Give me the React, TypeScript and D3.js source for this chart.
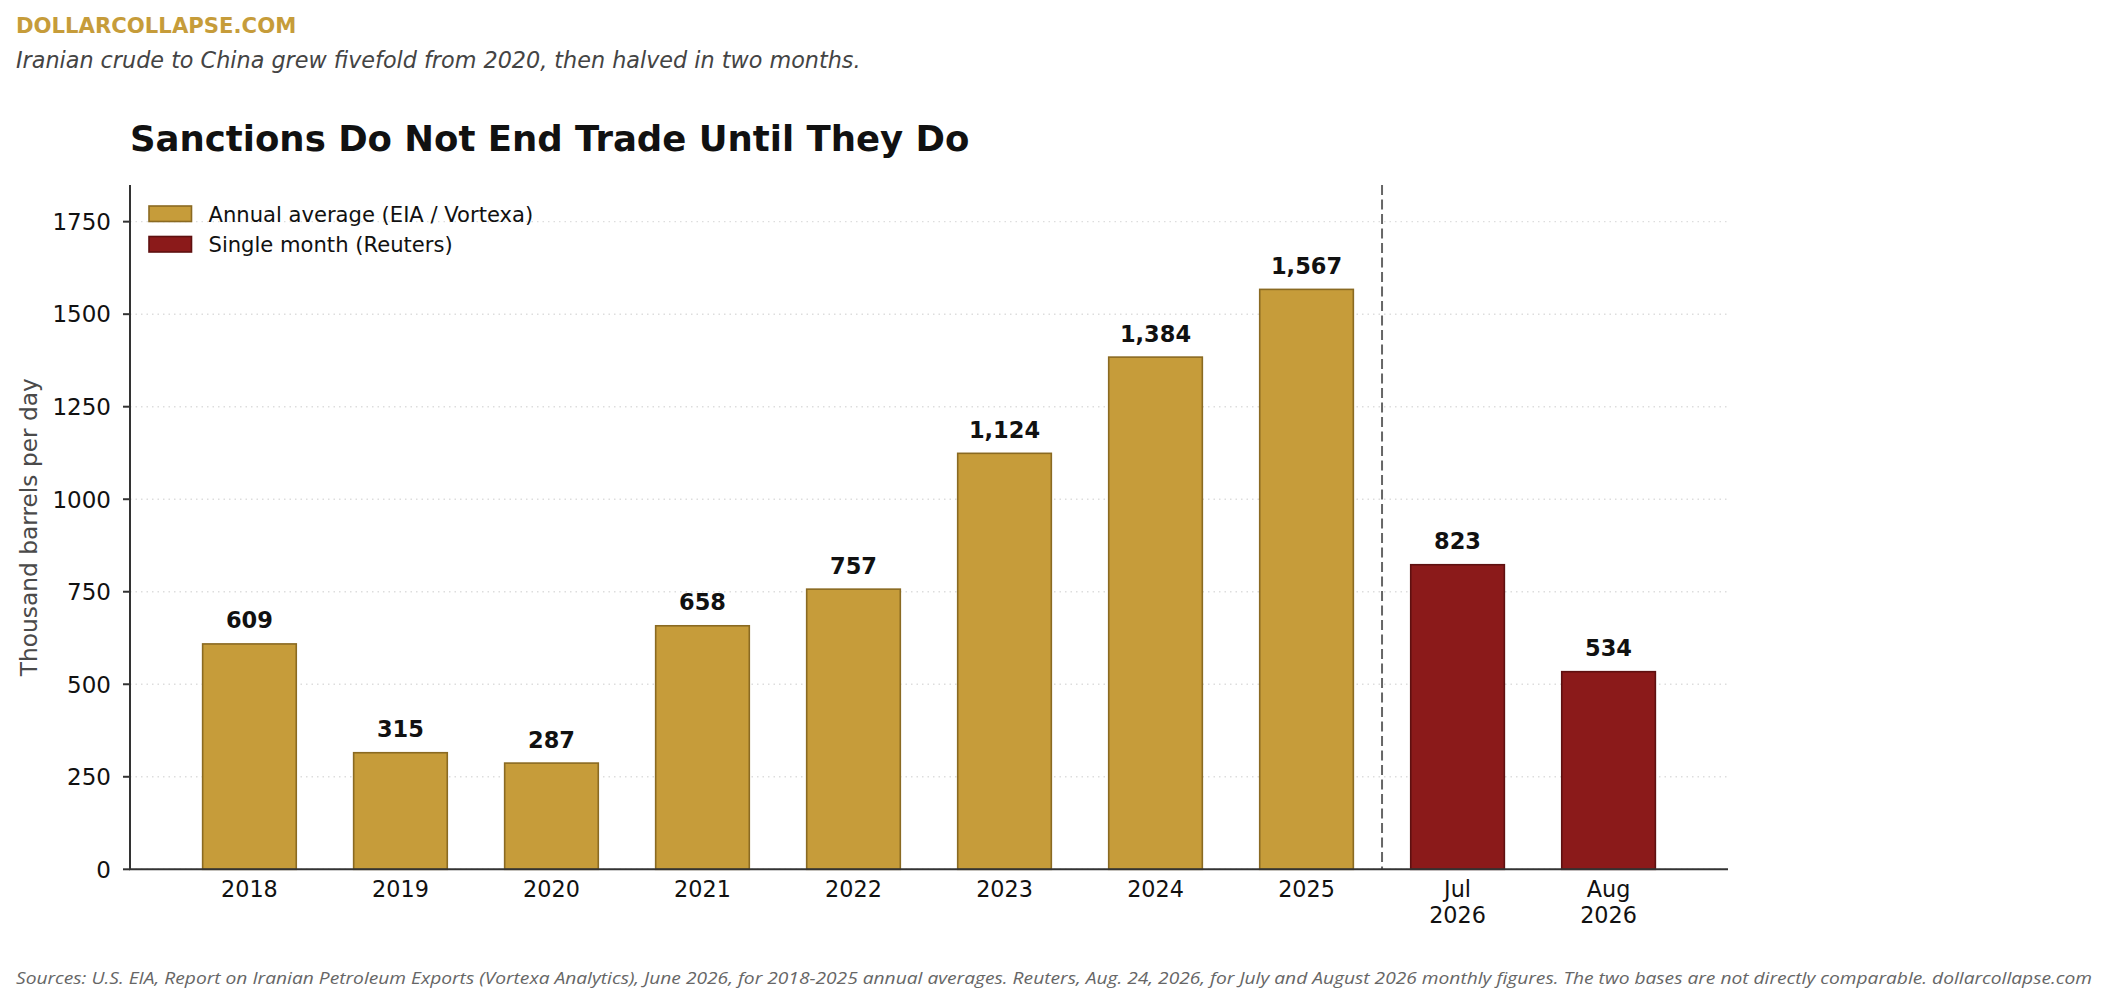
import { useEffect } from 'react';
import { scaleLinear, format, max } from 'd3';

// chart data
const categories = ['2018', '2019', '2020', '2021', '2022', '2023', '2024', '2025', 'Jul\n2026', 'Aug\n2026'];
const values = [609, 315, 287, 658, 757, 1124, 1384, 1567, 823, 534];
const sourceKind = ['annual', 'annual', 'annual', 'annual', 'annual', 'annual', 'annual', 'annual', 'monthly', 'monthly'];
const yTicks = [0, 250, 500, 750, 1000, 1250, 1500, 1750];
const legendItems = [
  { kind: 'annual', label: 'Annual average (EIA / Vortexa)' },
  { kind: 'monthly', label: 'Single month (Reuters)' },
];

const W = 2107;
const H = 1004;
const plot = { left: 130, right: 1728, top: 185, bottom: 869.3 };
const barWidth = 0.62;
const font = 'DejaVu Sans, sans-serif';

const fills: Record<string, string> = { annual: '#C69C3A', monthly: '#8B1A1A' };
const edges: Record<string, string> = { annual: '#8A6A22', monthly: '#5E1010' };

const fmt = format(',');

const App = () => {
  useEffect(() => {
    document.body.style.margin = '0';
  }, []);

  // matplotlib-like x limits: bar extent plus 5% margin
  const lo = -barWidth / 2;
  const hi = categories.length - 1 + barWidth / 2;
  const pad = (hi - lo) * 0.05;
  const x = scaleLinear().domain([lo - pad, hi + pad]).range([plot.left, plot.right]);
  const y = scaleLinear().domain([0, (max(values) ?? 0) * 1.18]).range([plot.bottom, plot.top]);
  const bw = x(barWidth) - x(0);
  const splitX = x(sourceKind.indexOf('monthly') - 0.5);

  return (
    <svg width={W} height={H} viewBox={`0 0 ${W} ${H}`} style={{ display: 'block', background: '#fff' }}>
      <text x={16} y={32.5} fontFamily={font} fontWeight="bold" fontSize={21.2} fill="#C69C3A">
        DOLLARCOLLAPSE.COM
      </text>
      <text x={16} y={68} fontFamily={font} fontStyle="italic" fontSize={22.3} fill="#444">
        Iranian crude to China grew fivefold from 2020, then halved in two months.
      </text>
      <text x={plot.left} y={151} fontFamily={font} fontWeight="bold" fontSize={35.5} fill="#111">
        Sanctions Do Not End Trade Until They Do
      </text>

      {/* grid */}
      {yTicks.map((t) => (
        <line
          key={'g' + t}
          x1={plot.left}
          x2={plot.right}
          y1={y(t)}
          y2={y(t)}
          stroke="#ddd"
          strokeWidth={1.4}
          strokeDasharray="1.5 4"
        />
      ))}

      {/* bars */}
      {values.map((v, i) => (
        <g key={categories[i]}>
          <rect
            x={x(i) - bw / 2}
            y={y(v)}
            width={bw}
            height={y(0) - y(v)}
            fill={fills[sourceKind[i]]}
            stroke={edges[sourceKind[i]]}
            strokeWidth={1.6}
          />
          <text
            x={x(i)}
            y={y(v) - 15.5}
            textAnchor="middle"
            fontFamily={font}
            fontWeight="bold"
            fontSize={22.5}
            fill="#111"
          >
            {fmt(v)}
          </text>
        </g>
      ))}

      {/* divider between annual and monthly */}
      <line x1={splitX} x2={splitX} y1={plot.top} y2={plot.bottom} stroke="#666" strokeWidth={2} strokeDasharray="10 4.5" />

      {/* axes */}
      <line x1={plot.left} x2={plot.left} y1={plot.top} y2={plot.bottom} stroke="#333" strokeWidth={2} />
      <line x1={plot.left - 1} x2={plot.right} y1={plot.bottom} y2={plot.bottom} stroke="#333" strokeWidth={2} />
      {yTicks.map((t) => (
        <g key={'t' + t}>
          <line x1={plot.left - 7} x2={plot.left} y1={y(t)} y2={y(t)} stroke="#333" strokeWidth={2} />
          <text
            x={plot.left - 19}
            y={y(t)}
            dy="0.36em"
            textAnchor="end"
            fontFamily={font}
            fontSize={23}
            fill="#111"
          >
            {t}
          </text>
        </g>
      ))}
      {categories.map((c, i) => (
        <text key={'x' + c} x={x(i)} y={896.5} textAnchor="middle" fontFamily={font} fontSize={22.3} fill="#111">
          {c.split('\n').map((line, j) => (
            <tspan key={j} x={x(i)} dy={j === 0 ? 0 : 26.5}>
              {line}
            </tspan>
          ))}
        </text>
      ))}
      <text
        transform={`translate(37,${(plot.top + plot.bottom) / 2}) rotate(-90)`}
        textAnchor="middle"
        fontFamily={font}
        fontSize={23.3}
        fill="#4a4a4a"
      >
        Thousand barrels per day
      </text>

      {/* legend */}
      {legendItems.map((item, i) => (
        <g key={item.kind} transform={`translate(149,${206 + i * 30.5})`}>
          <rect width={42.5} height={15.5} fill={fills[item.kind]} stroke={edges[item.kind]} strokeWidth={1.6} />
          <text x={59.5} y={15.5} fontFamily={font} fontSize={21.1} fill="#111">
            {item.label}
          </text>
        </g>
      ))}

      <text
        x={16}
        y={984}
        fontFamily="Open Sans, sans-serif"
        fontStyle="italic"
        fontSize={16.8}
        fill="#666"
        textLength={2076}
        lengthAdjust="spacingAndGlyphs"
      >
        Sources: U.S. EIA, Report on Iranian Petroleum Exports (Vortexa Analytics), June 2026, for 2018-2025 annual averages. Reuters, Aug. 24, 2026, for July and August 2026 monthly figures. The two bases are not directly comparable. dollarcollapse.com
      </text>
    </svg>
  );
};

export default App;
